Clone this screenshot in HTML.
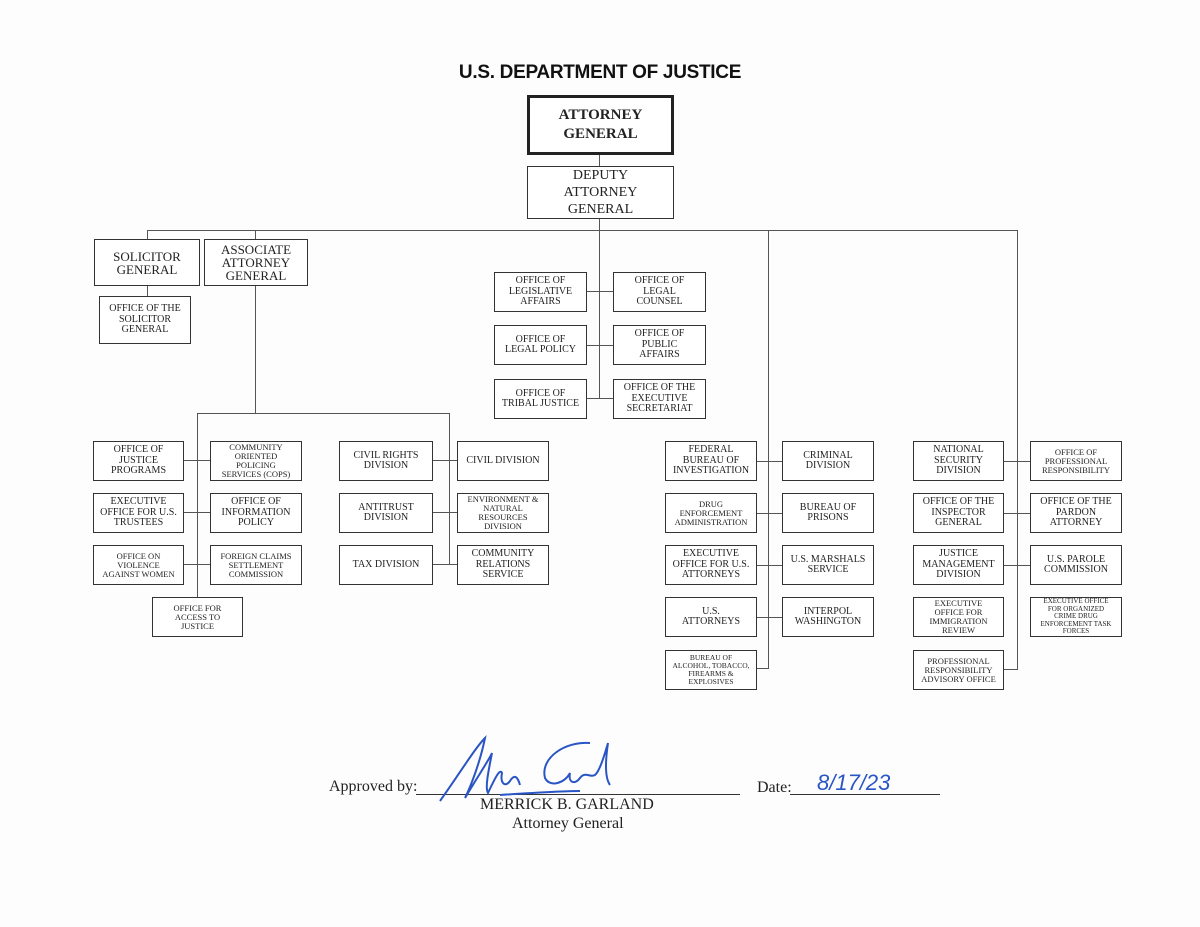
<!DOCTYPE html>
<html><head><meta charset="utf-8"><style>
body{margin:0;width:1200px;height:927px;background:#fdfdfd;position:relative;overflow:hidden;font-family:"Liberation Serif",serif;color:#222}
.b{position:absolute;border:1.3px solid #333;box-sizing:border-box;display:flex;align-items:center;justify-content:center;text-align:center;font-size:10px;line-height:10.5px;background:#fff}
.s{font-size:8.5px;line-height:9px}
.m{font-size:13px;line-height:13px}
.h{position:absolute;border-top:1px solid #555;height:0}
.v{position:absolute;border-left:1px solid #555;width:0}
.t{position:absolute;font-size:16px;white-space:nowrap}
</style></head><body>
<div style="position:absolute;left:0;width:1200px;top:62px;text-align:center;font-family:'Liberation Sans',sans-serif;font-weight:bold;font-size:19px;letter-spacing:-0.3px;color:#111">U.S. DEPARTMENT OF JUSTICE</div>

<div class="b" style="left:527px;top:95px;width:147px;height:60px;border:3px solid #222;font-weight:bold;font-size:15px;line-height:19px">ATTORNEY<br>GENERAL</div>
<div class="v" style="left:599px;top:155px;height:11px"></div>
<div class="b" style="left:527px;top:166px;width:147px;height:53px;font-size:14px;line-height:17px">DEPUTY<br>ATTORNEY<br>GENERAL</div>
<div class="v" style="left:599px;top:219px;height:180px"></div>
<div class="h" style="left:147px;top:230px;width:871px"></div>
<div class="v" style="left:147px;top:230px;height:9px"></div>
<div class="v" style="left:255px;top:230px;height:9px"></div>
<div class="b m" style="left:94px;top:239px;width:106px;height:47px">SOLICITOR<br>GENERAL</div>
<div class="b m" style="left:204px;top:239px;width:104px;height:47px">ASSOCIATE<br>ATTORNEY<br>GENERAL</div>
<div class="v" style="left:147px;top:286px;height:10px"></div>
<div class="b" style="left:99px;top:296px;width:92px;height:48px">OFFICE OF THE<br>SOLICITOR<br>GENERAL</div>

<div class="h" style="left:586px;top:291px;width:27px"></div>
<div class="h" style="left:586px;top:345px;width:27px"></div>
<div class="h" style="left:586px;top:398px;width:27px"></div>
<div class="b" style="left:494px;top:272px;width:93px;height:40px">OFFICE OF<br>LEGISLATIVE<br>AFFAIRS</div>
<div class="b" style="left:613px;top:272px;width:93px;height:40px">OFFICE OF<br>LEGAL<br>COUNSEL</div>
<div class="b" style="left:494px;top:325px;width:93px;height:40px">OFFICE OF<br>LEGAL POLICY</div>
<div class="b" style="left:613px;top:325px;width:93px;height:40px">OFFICE OF<br>PUBLIC<br>AFFAIRS</div>
<div class="b" style="left:494px;top:379px;width:93px;height:40px">OFFICE OF<br>TRIBAL JUSTICE</div>
<div class="b" style="left:613px;top:379px;width:93px;height:40px">OFFICE OF THE<br>EXECUTIVE<br>SECRETARIAT</div>

<div class="v" style="left:255px;top:286px;height:128px"></div>
<div class="h" style="left:197px;top:413px;width:253px"></div>
<div class="v" style="left:197px;top:413px;height:184px"></div>
<div class="v" style="left:449px;top:413px;height:152px"></div>
<div class="h" style="left:183px;top:460px;width:27px"></div>
<div class="h" style="left:183px;top:512px;width:27px"></div>
<div class="h" style="left:183px;top:564px;width:27px"></div>
<div class="h" style="left:432px;top:460px;width:25px"></div>
<div class="h" style="left:432px;top:512px;width:25px"></div>
<div class="h" style="left:432px;top:564px;width:25px"></div>
<div class="b" style="left:93px;top:441px;width:91px;height:40px">OFFICE OF<br>JUSTICE<br>PROGRAMS</div>
<div class="b s" style="left:210px;top:441px;width:92px;height:40px">COMMUNITY<br>ORIENTED<br>POLICING<br>SERVICES (COPS)</div>
<div class="b" style="left:93px;top:493px;width:91px;height:40px">EXECUTIVE<br>OFFICE FOR U.S.<br>TRUSTEES</div>
<div class="b" style="left:210px;top:493px;width:92px;height:40px">OFFICE OF<br>INFORMATION<br>POLICY</div>
<div class="b s" style="left:93px;top:545px;width:91px;height:40px">OFFICE ON<br>VIOLENCE<br>AGAINST WOMEN</div>
<div class="b s" style="left:210px;top:545px;width:92px;height:40px">FOREIGN CLAIMS<br>SETTLEMENT<br>COMMISSION</div>
<div class="b s" style="left:152px;top:597px;width:91px;height:40px">OFFICE FOR<br>ACCESS TO<br>JUSTICE</div>
<div class="b" style="left:339px;top:441px;width:94px;height:40px">CIVIL RIGHTS<br>DIVISION</div>
<div class="b" style="left:457px;top:441px;width:92px;height:40px">CIVIL DIVISION</div>
<div class="b" style="left:339px;top:493px;width:94px;height:40px">ANTITRUST<br>DIVISION</div>
<div class="b s" style="left:457px;top:493px;width:92px;height:40px">ENVIRONMENT &amp;<br>NATURAL<br>RESOURCES<br>DIVISION</div>
<div class="b" style="left:339px;top:545px;width:94px;height:40px">TAX DIVISION</div>
<div class="b" style="left:457px;top:545px;width:92px;height:40px">COMMUNITY<br>RELATIONS<br>SERVICE</div>

<div class="v" style="left:768px;top:230px;height:438px"></div>
<div class="h" style="left:756px;top:461px;width:26px"></div>
<div class="h" style="left:756px;top:513px;width:26px"></div>
<div class="h" style="left:756px;top:565px;width:26px"></div>
<div class="h" style="left:756px;top:617px;width:26px"></div>
<div class="h" style="left:756px;top:668px;width:13px"></div>
<div class="b" style="left:665px;top:441px;width:92px;height:40px">FEDERAL<br>BUREAU OF<br>INVESTIGATION</div>
<div class="b" style="left:782px;top:441px;width:92px;height:40px">CRIMINAL<br>DIVISION</div>
<div class="b s" style="left:665px;top:493px;width:92px;height:40px">DRUG<br>ENFORCEMENT<br>ADMINISTRATION</div>
<div class="b" style="left:782px;top:493px;width:92px;height:40px">BUREAU OF<br>PRISONS</div>
<div class="b" style="left:665px;top:545px;width:92px;height:40px">EXECUTIVE<br>OFFICE FOR U.S.<br>ATTORNEYS</div>
<div class="b" style="left:782px;top:545px;width:92px;height:40px">U.S. MARSHALS<br>SERVICE</div>
<div class="b" style="left:665px;top:597px;width:92px;height:40px">U.S.<br>ATTORNEYS</div>
<div class="b" style="left:782px;top:597px;width:92px;height:40px">INTERPOL<br>WASHINGTON</div>
<div class="b" style="left:665px;top:650px;width:92px;height:40px;font-size:7.5px;line-height:8px">BUREAU OF<br>ALCOHOL, TOBACCO,<br>FIREARMS &amp;<br>EXPLOSIVES</div>

<div class="v" style="left:1017px;top:230px;height:440px"></div>
<div class="h" style="left:1003px;top:461px;width:27px"></div>
<div class="h" style="left:1003px;top:513px;width:27px"></div>
<div class="h" style="left:1003px;top:565px;width:27px"></div>
<div class="h" style="left:1003px;top:669px;width:14px"></div>
<div class="b" style="left:913px;top:441px;width:91px;height:40px">NATIONAL<br>SECURITY<br>DIVISION</div>
<div class="b s" style="left:1030px;top:441px;width:92px;height:40px">OFFICE OF<br>PROFESSIONAL<br>RESPONSIBILITY</div>
<div class="b" style="left:913px;top:493px;width:91px;height:40px">OFFICE OF THE<br>INSPECTOR<br>GENERAL</div>
<div class="b" style="left:1030px;top:493px;width:92px;height:40px">OFFICE OF THE<br>PARDON<br>ATTORNEY</div>
<div class="b" style="left:913px;top:545px;width:91px;height:40px">JUSTICE<br>MANAGEMENT<br>DIVISION</div>
<div class="b" style="left:1030px;top:545px;width:92px;height:40px">U.S. PAROLE<br>COMMISSION</div>
<div class="b s" style="left:913px;top:597px;width:91px;height:40px">EXECUTIVE<br>OFFICE FOR<br>IMMIGRATION<br>REVIEW</div>
<div class="b" style="left:1030px;top:597px;width:92px;height:40px;font-size:7px;line-height:7.5px">EXECUTIVE OFFICE<br>FOR ORGANIZED<br>CRIME DRUG<br>ENFORCEMENT TASK<br>FORCES</div>
<div class="b s" style="left:913px;top:650px;width:91px;height:40px">PROFESSIONAL<br>RESPONSIBILITY<br>ADVISORY OFFICE</div>

<div class="t" style="left:329px;top:778px">Approved by:</div>
<div class="h" style="left:416px;top:794px;width:324px;border-color:#333"></div>
<div class="t" style="left:480px;top:796px">MERRICK B. GARLAND</div>
<div class="t" style="left:512px;top:815px">Attorney General</div>
<div class="t" style="left:757px;top:779px">Date:</div>
<div class="h" style="left:790px;top:794px;width:150px;border-color:#333"></div>
<div class="t" style="left:817px;top:770px;color:#2a55c4;font-style:italic;font-size:22px;font-family:'Liberation Sans',sans-serif">8/17/23</div>
<svg style="position:absolute;left:430px;top:733px" width="200" height="70" viewBox="0 0 200 70" fill="none" stroke="#2a55c4" stroke-width="2">
<path d="M10 68 C30 40 45 15 55 5 C50 30 40 55 35 65 C50 40 60 25 62 20 C58 40 55 55 58 60 C65 45 70 35 72 40 C70 50 75 55 80 48 C85 40 88 45 90 52"/>
<path d="M160 10 C135 8 110 25 115 45 C120 55 135 50 140 40 C138 50 145 52 150 45 C155 38 160 45 165 42 C170 38 175 20 178 10 C175 30 175 45 180 52"/>
<path d="M70 62 C100 60 130 58 150 58"/>
</svg>
</body></html>
